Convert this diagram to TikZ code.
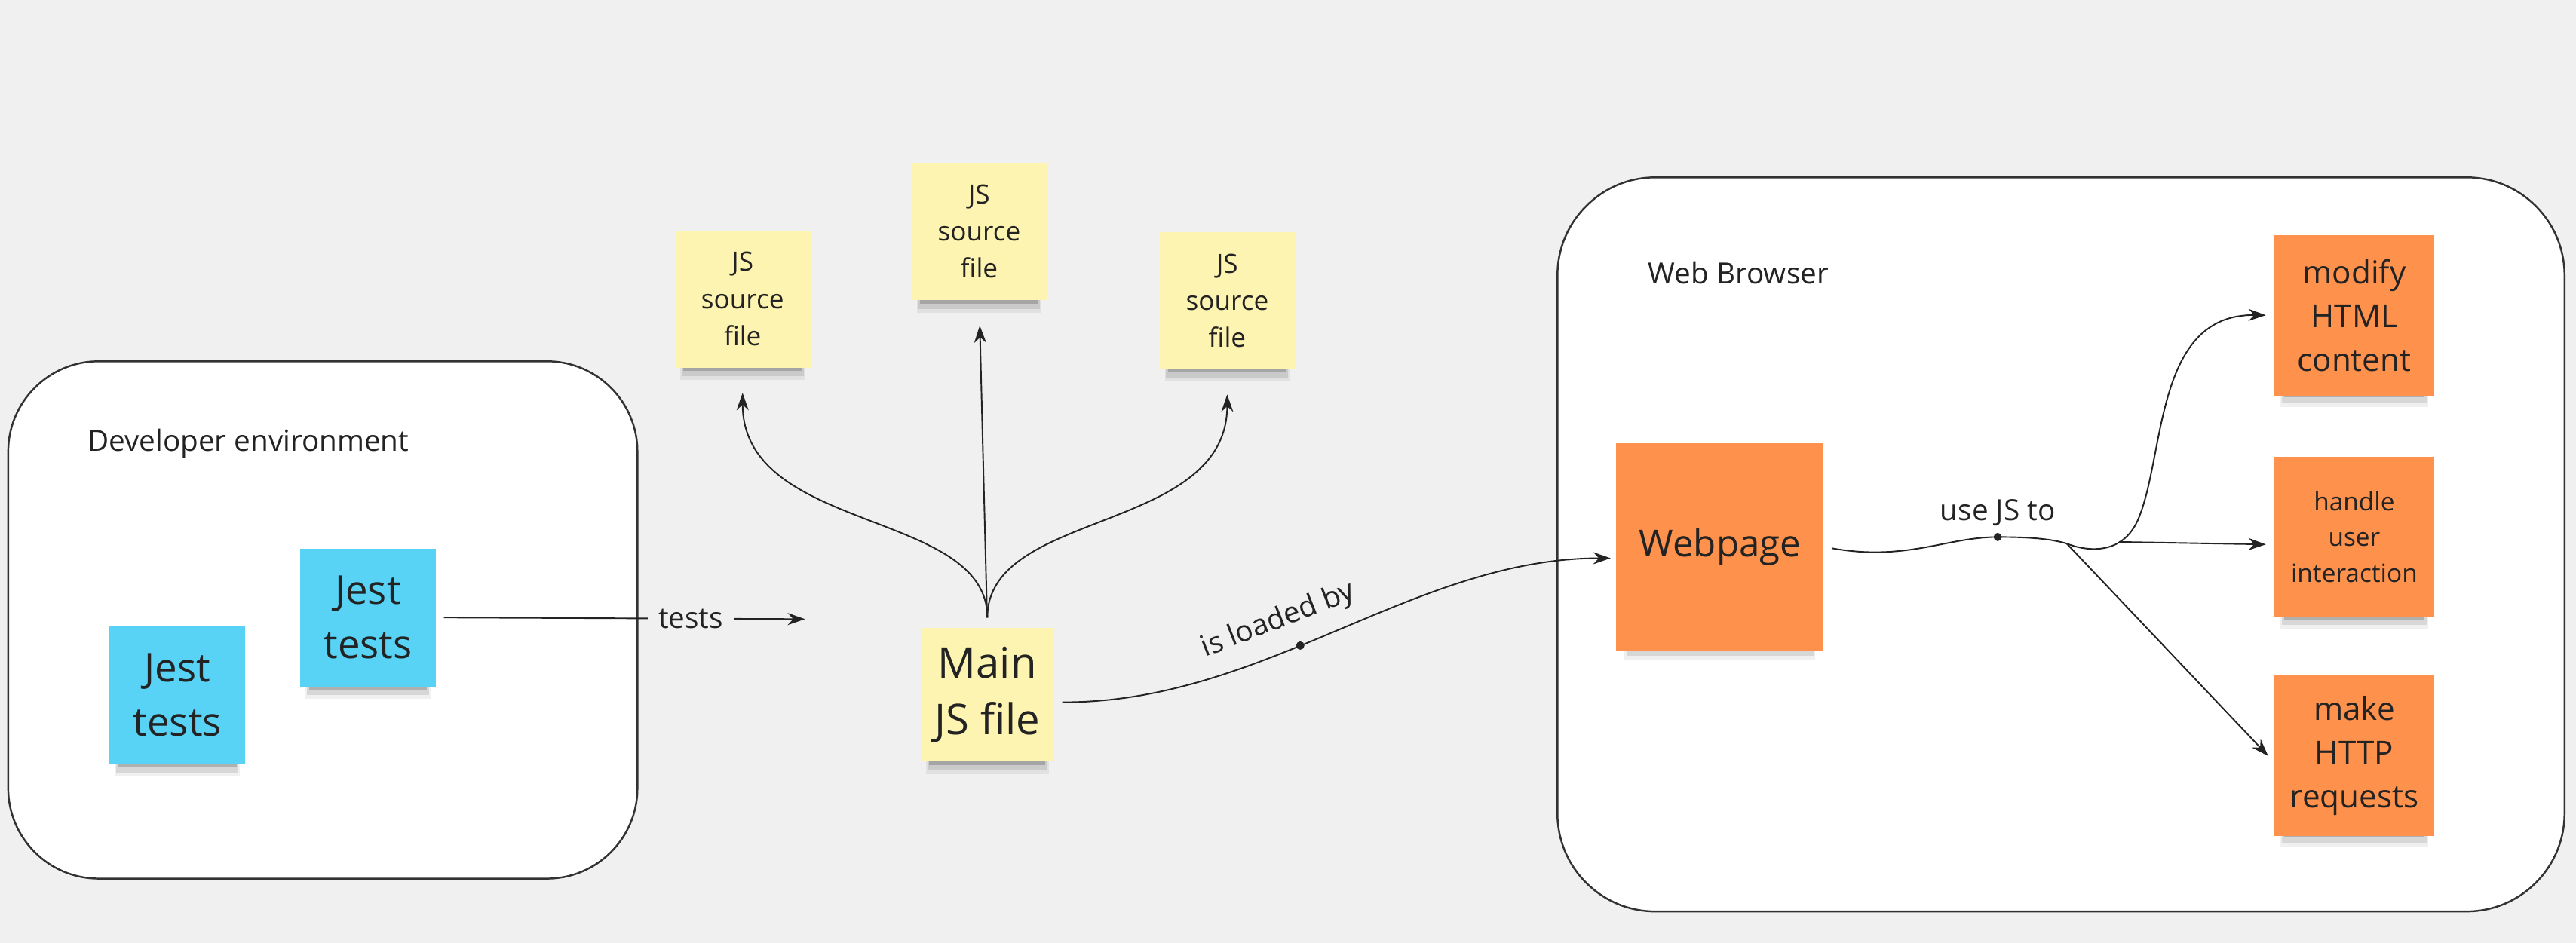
\documentclass[tikz,border=0pt]{standalone}
\usepackage{fontspec}
\setmainfont{Open Sans}
\usepackage{tikz}
\usetikzlibrary{arrows.meta,shadows}
\definecolor{boardgray}{RGB}{240, 240, 240}
\definecolor{framegray}{RGB}{50, 50, 50}
\definecolor{inkgray}{RGB}{35, 35, 35}
\definecolor{jestblue}{RGB}{88, 210, 245}
\definecolor{jsyellow}{RGB}{254, 244, 178}
\definecolor{pageorange}{RGB}{254, 145, 76}

\begin{document}
\begin{tikzpicture}[x=0.21786mm, y=-0.21786mm,
    sticky/.style={inner sep=1pt, align=center, text=inkgray,
      general shadow={fill=black, opacity=0.06, shadow xshift=0pt,
        shadow yshift=-2.6mm, shadow scale=0.92},
      general shadow={fill=black, opacity=0.10, shadow xshift=0pt,
        shadow yshift=-2.3mm, shadow scale=0.9},
      general shadow={fill=black, opacity=0.18, shadow xshift=0pt,
        shadow yshift=-1.9mm, shadow scale=0.87}},
    jest/.style={sticky, fill=jestblue, minimum width=18mm, minimum height=18.3mm,
      font=\fontsize{15}{20.5}\selectfont},
    srcfile/.style={sticky, fill=jsyellow, minimum width=18mm, minimum height=18.2mm,
      font=\fontsize{10}{14}\selectfont},
    browserjob/.style={sticky, fill=pageorange, minimum width=21.3mm, minimum height=21.3mm},
    frame/.style={draw=framegray, line width=0.7pt, fill=white},
    boxlabel/.style={anchor=west, inner sep=0pt, text=inkgray, font=\fontsize{11}{13}\selectfont},
    linklabel/.style={text=inkgray, font=\fontsize{11}{13}\selectfont, inner sep=2pt},
    wire/.style={draw=inkgray, line width=0.55pt},
    link/.style={wire, -{Stealth[length=2.3mm, width=1.6mm]}},
    handle dot/.style={circle, fill=inkgray, inner sep=0pt, minimum size=1.1mm}]

\fill[boardgray] (0,0) rectangle (1568,574);
\useasboundingbox (0,0) rectangle (1568,574);

%% ── LEFT: developer environment ──────────────────────────────────────────────
\draw[frame, rounded corners=12mm] (5,220) rectangle (388,535);
\node[boxlabel] (devlabel) at (53,270) {Developer environment};

\node[jest] (jestA) at (108,423) {Jest\\tests};
\node[jest] (jestB) at (224,376) {Jest\\tests};

% tests arrow ends in free space before the main file
\coordinate (testsend) at (490,377);
\draw[link, shorten <=1mm] (jestB.east) -- (testsend)
  node[pos=0.69, linklabel, fill=boardgray, inner xsep=4pt] (testslabel) {tests};

%% ── MIDDLE: JS files ─────────────────────────────────────────────────────────
\node[srcfile] (srcL) at (452,182) {JS\\source\\file};
\node[srcfile] (srcM) at (596,141) {JS\\source\\file};
\node[srcfile] (srcR) at (747,183) {JS\\source\\file};

\node[sticky, fill=jsyellow, minimum width=17.7mm, minimum height=17.7mm,
      font=\fontsize{16}{21.5}\selectfont] (main) at (601,423) {Main\\JS file};

% the three imports fan out from one stem
\draw[link, shorten <=1.3mm, shorten >=3.3mm] (main.north)
  .. controls (601,310) and (452,325) .. (srcL.south);
\draw[link, shorten <=1.3mm, shorten >=3.3mm] (main.north) -- (srcM.south);
\draw[link, shorten <=1.3mm, shorten >=3.3mm] (main.north)
  .. controls (601,310) and (747,325) .. (srcR.south);

%% ── RIGHT: web browser ───────────────────────────────────────────────────────
\draw[frame, rounded corners=13mm] (948,108) rectangle (1561,555);
\node[boxlabel] (browserlabel) at (1003,166) {Web Browser};

\node[browserjob, minimum width=27.5mm, minimum height=27.5mm,
      font=\fontsize{14}{18}\selectfont] (web) at (1047,333) {Webpage};

\node[browserjob, font=\fontsize{12}{16.5}\selectfont] (modify) at (1433,192)
  {modify\\HTML\\content};
\node[browserjob, font=\fontsize{9.5}{13.5}\selectfont] (handle) at (1433,327)
  {handle\\user\\interaction};
\node[browserjob, font=\fontsize{12}{16.5}\selectfont] (make) at (1433,460)
  {make\\HTTP\\requests};

% loaded into the page
\draw[link, shorten <=1mm] ([yshift=-1mm]main.east)
  .. controls (770,428) and (860,340) .. ([yshift=-1.5mm, xshift=-0.7mm]web.west)
  node[pos=0.43, handle dot] (loaddot) {}
  node[pos=0.41, sloped, above=4pt, linklabel] (loadlabel) {is loaded by};

% shared trunk, then three branches
\coordinate (usedot) at (1216,327);
\coordinate (hub) at (1258,331);
\coordinate (bend) at (1302,315);
\coordinate (handlefork) at (1290,330);

\draw[wire, shorten <=1mm] (web.east) .. controls (1160,342) and (1185,327) .. (usedot)
  .. controls (1235,327) and (1248,328) .. (hub);
\node[handle dot] (usedotmark) at (usedot) {};
\node[linklabel, above=2pt] (uselabel) at (usedot) {use JS to};

\draw[link, shorten >=1mm] (hub) .. controls (1268,335) and (1292,340) .. (bend)
  .. controls (1318,275) and (1312,191) .. (modify.west);
\draw[link, shorten >=1mm] (handlefork) -- ([yshift=-1mm]handle.west);
\draw[link, shorten >=1mm] (hub) -- ([yshift=-0.8mm]make.west);

\end{tikzpicture}
\end{document}
